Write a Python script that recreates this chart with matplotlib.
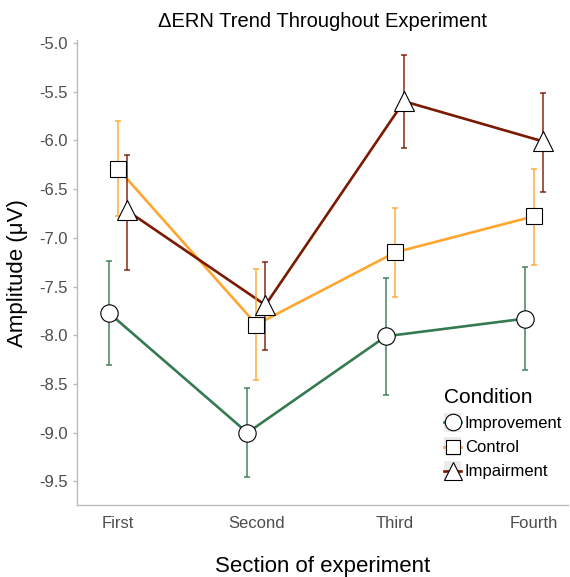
import numpy as np
from matplotlib import pyplot as plt
from matplotlib.lines import Line2D
from matplotlib.patches import Rectangle

plt.rcParams['font.family'] = ['Liberation Sans', 'DejaVu Sans']

sections = ['First', 'Second', 'Third', 'Fourth']
conditions = ['Improvement', 'Control', 'Impairment']

improvement = [-7.77, -9.00, -8.01, -7.83]
improvement_lo = [-8.30, -9.45, -8.61, -8.36]
improvement_hi = [-7.24, -8.54, -7.41, -7.30]

control = [-6.29, -7.89, -7.15, -6.78]
control_lo = [-6.78, -8.46, -7.61, -7.28]
control_hi = [-5.80, -7.32, -6.69, -6.29]

impairment = [-6.72, -7.69, -5.60, -6.01]
impairment_lo = [-7.33, -8.15, -6.08, -6.53]
impairment_hi = [-6.15, -7.25, -5.12, -5.51]

means = [improvement, control, impairment]
lows = [improvement_lo, control_lo, impairment_lo]
highs = [improvement_hi, control_hi, impairment_hi]
colors = ['#367a52', '#ffa630', '#7a1a02']
markers = ['o', 's', '^']
msizes = [12.5, 11, 14]
offsets = [-0.065, 0.0, 0.065]


class KeyHandler:
    # grey ggplot-style key with a short coloured line and the marker on top
    def legend_artist(self, legend, orig_handle, fontsize, handlebox):
        x0, y0 = -handlebox.xdescent, -handlebox.ydescent
        w, h = handlebox.width, handlebox.height
        tr = handlebox.get_transform()
        bg = Rectangle((x0, y0 - 1), w, h + 2, facecolor='#ebebeb',
                       edgecolor='none', transform=tr)
        ln = Line2D([x0, x0 + w], [y0 + h / 2] * 2, color=orig_handle.get_color(),
                    lw=1.9, transform=tr)
        mk = Line2D([x0 + w / 2], [y0 + h / 2], marker=orig_handle.get_marker(),
                    ms=orig_handle.get_markersize(), mfc='white', mec='black',
                    mew=0.8, transform=tr)
        for a in (bg, ln, mk):
            handlebox.add_artist(a)
        return mk


fig = plt.figure(figsize=(5.7, 5.77), dpi=100)
ax = fig.add_axes([0.135, 0.125, 0.862, 0.805])

x = np.arange(len(sections))
handles = []
for m, lo, hi, c, mk, ms, off in zip(means, lows, highs, colors, markers, msizes, offsets):
    xx = x + off
    m = np.array(m)
    err = [m - np.array(lo), np.array(hi) - m]
    ax.plot(xx, m, color=c, lw=1.9, zorder=2)
    ax.errorbar(xx, m, yerr=err, fmt='none', ecolor=c, elinewidth=1.2,
                capsize=2, capthick=1.2, alpha=0.85, zorder=3)
    ax.plot(xx, m, ls='none', marker=mk, ms=ms, mfc='white', mec='black',
            mew=0.8, zorder=4)
    handles.append(Line2D([], [], color=c, marker=mk, ms=ms * 0.95))

ax.set_xlim(-0.295, 3.25)
ax.set_ylim(-9.74, -4.975)
ax.set_xticks(x)
ax.set_xticklabels(sections)
ax.set_yticks(np.arange(-9.5, -4.99, 0.5))
ax.set_yticklabels(['%.1f' % v for v in np.arange(-9.5, -4.99, 0.5)])

for side in ['top', 'right']:
    ax.spines[side].set_visible(False)
for side in ['left', 'bottom']:
    ax.spines[side].set_color('#bdbdbd')
    ax.spines[side].set_linewidth(1.0)
ax.tick_params(axis='y', colors='#bdbdbd', labelcolor='#4d4d4d',
               labelsize=12, length=3, width=1)
ax.tick_params(axis='x', length=0, labelcolor='#4d4d4d', labelsize=12, pad=8)

ax.set_title('\u0394ERN Trend Throughout Experiment', fontsize=14.5, pad=10)
ax.set_xlabel('Section of experiment', fontsize=16, labelpad=18)
ax.set_ylabel('Amplitude (\u03bcV)', fontsize=16, labelpad=8)

leg = ax.legend(handles, conditions, title='Condition', loc='lower left',
                bbox_to_anchor=(0.73, 0.037), frameon=False, fontsize=12,
                title_fontsize=15, handlelength=1.05, handleheight=1.1,
                handletextpad=0.2, labelspacing=0.45, borderpad=0.0,
                handler_map={h: KeyHandler() for h in handles})
leg._legend_box.align = 'left'

fig.savefig('out.png', dpi=100)
